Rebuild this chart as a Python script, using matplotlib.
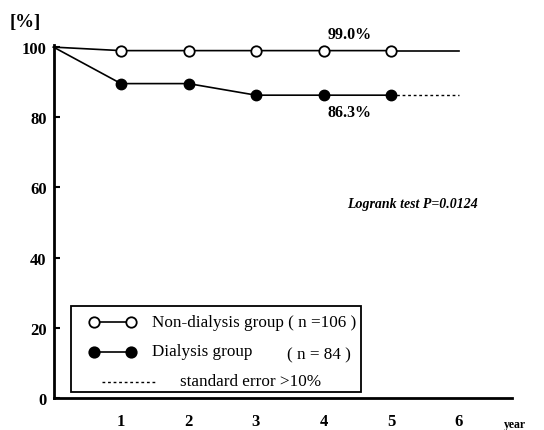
import matplotlib
matplotlib.use("Agg")
import matplotlib.pyplot as plt
from matplotlib.patches import Rectangle
from matplotlib.lines import Line2D

# ---- data ----
years = [0, 1, 2, 3, 4, 5]
non_dialysis = [100, 99.0, 99.0, 99.0, 99.0, 99.0]
non_dialysis_tail_x = [5, 6]
non_dialysis_tail_y = [99.0, 99.0]
dialysis = [100, 89.6, 89.6, 86.3, 86.3, 86.3]
dialysis_se_x = [5, 6]
dialysis_se_y = [86.3, 86.3]
yticks = [0, 20, 40, 60, 80, 100]
xticks = [1, 2, 3, 4, 5, 6]

W, H = 544, 431
plt.rcParams['font.family'] = ['Liberation Serif', 'DejaVu Serif']

fig = plt.figure(figsize=(W / 100, H / 100), dpi=100)
# axes placement in pixels
ax_l, ax_r, ax_t, ax_b = 53.5, 512, 46, 399
ax = fig.add_axes([ax_l / W, 1 - ax_b / H, (ax_r - ax_l) / W, (ax_b - ax_t) / H])
x_per = 67.5
ax.set_xlim(0, (ax_r - ax_l) / x_per)
ax.set_ylim(0, 100.6)

def fx(px):
    return px / W

def fy(py):
    return 1 - py / H

ax.plot(years, non_dialysis, color='black', lw=1.2, zorder=2, clip_on=False)
ax.plot(non_dialysis_tail_x, non_dialysis_tail_y, color='black', lw=1.2, zorder=2)
ax.plot(years[1:], non_dialysis[1:], 'o', ms=7.5, mfc='white', mec='black', mew=1.3, zorder=3)
ax.plot(years, dialysis, color='black', lw=1.2, zorder=2, clip_on=False)
ax.plot(years[1:], dialysis[1:], 'o', ms=7.5, mfc='black', mec='black', zorder=3)
ax.plot(dialysis_se_x, dialysis_se_y, color='black', lw=1.0, ls=(0, (2, 2)), zorder=2)

for s in ['top', 'right']:
    ax.spines[s].set_visible(False)
for s in ['left', 'bottom']:
    ax.spines[s].set_linewidth(2.0)

ax.set_yticks(yticks)
ax.set_yticklabels([str(v) for v in yticks], fontweight='bold', fontsize=12)
ax.tick_params(axis='y', direction='in', length=4, width=1.5, pad=5)
ax.set_xticks(xticks)
ax.set_xticklabels([str(v) for v in xticks], fontweight='bold', fontsize=12)
ax.tick_params(axis='x', length=0, pad=11)

fig.text(fx(10), fy(23), '[%]', fontsize=13.5, fontweight='bold', va='center', ha='left')
fig.text(fx(504), fy(425), 'year', fontsize=8.5, fontweight='bold', va='center', ha='left')

fig.text(fx(350), fy(35), '99.0%', fontsize=11.5, fontweight='bold', va='center', ha='center')
fig.text(fx(350), fy(113), '86.3%', fontsize=11.5, fontweight='bold', va='center', ha='center')
fig.text(fx(412), fy(205), 'Logrank test P=0.0124', fontsize=10, fontweight='bold',
         style='italic', va='center', ha='center')

# legend box
box = Rectangle((fx(71), fy(392.5)), fx(361) - fx(71), fy(307) - fy(392.5),
                transform=fig.transFigure, fill=False, ec='black', lw=1.3)
fig.add_artist(box)

def handle(y, filled):
    fig.add_artist(Line2D([fx(94), fx(131)], [fy(y), fy(y)], transform=fig.transFigure,
                          color='black', lw=1.2))
    fig.add_artist(Line2D([fx(94), fx(131)], [fy(y), fy(y)], transform=fig.transFigure,
                          ls='none', marker='o', ms=7.5, mec='black', mew=1.3,
                          mfc='black' if filled else 'white'))

handle(323, False)
handle(353, True)
fig.add_artist(Line2D([fx(102), fx(157)], [fy(383), fy(383)], transform=fig.transFigure,
                      color='black', lw=1.0, ls=(0, (2, 2))))
fig.text(fx(152), fy(323), 'Non-dialysis group ( n =106 )', fontsize=12.3, va='center', ha='left')
fig.text(fx(152), fy(352), 'Dialysis group', fontsize=12.3, va='center', ha='left')
fig.text(fx(287), fy(355), '( n = 84 )', fontsize=12.3, va='center', ha='left')
fig.text(fx(180), fy(382), 'standard error >10%', fontsize=12.3, va='center', ha='left')

fig.savefig('out.png', dpi=100)
